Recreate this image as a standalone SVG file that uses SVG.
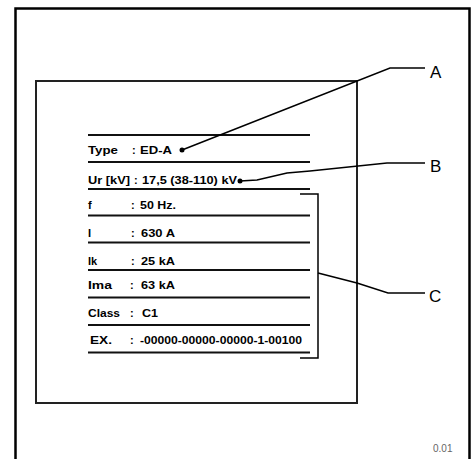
<svg xmlns="http://www.w3.org/2000/svg" width="471" height="459" viewBox="0 0 471 459">
<style>
.frame{fill:none;stroke:#000;stroke-width:2.5}
.box{fill:#fff;stroke:#222;stroke-width:2}
.rule{stroke:#111;stroke-width:2}
.t{font-family:"Liberation Sans",Arial,sans-serif;font-weight:bold;font-size:11px;fill:#000}
.lead{fill:none;stroke:#000;stroke-width:1.5}
.letter{font-family:"Liberation Sans",Arial,sans-serif;font-size:17px;fill:#000}
.ref{font-family:"Liberation Sans",Arial,sans-serif;font-size:10px;fill:#666}
</style>
<rect width="471" height="459" fill="#fff"/>
<g id="frame">
<path class="frame" d="M15.5,462 V8.5 H469.5 V462"/>
</g>
<g id="plate">
<rect class="box" x="36" y="81" width="321" height="322"/>
<g id="rules">
<line class="rule" x1="88" y1="135" x2="310" y2="135"/>
<line class="rule" x1="88" y1="162" x2="310" y2="162"/>
<line class="rule" x1="88" y1="189" x2="310" y2="189"/>
<line class="rule" x1="88" y1="215.5" x2="310" y2="215.5"/>
<line class="rule" x1="88" y1="242.5" x2="310" y2="242.5"/>
<line class="rule" x1="88" y1="270" x2="310" y2="270"/>
<line class="rule" x1="88" y1="297.5" x2="310" y2="297.5"/>
<line class="rule" x1="88" y1="325" x2="310" y2="325"/>
<line class="rule" x1="88" y1="352.5" x2="310" y2="352.5"/>
</g>
<g id="texts">
<text class="t" x="88" y="154" textLength="30" lengthAdjust="spacingAndGlyphs">Type</text>
<text class="t" x="132" y="154">:</text>
<text class="t" x="140" y="154" textLength="32" lengthAdjust="spacingAndGlyphs">ED-A</text>
<text class="t" x="88" y="184" textLength="42" lengthAdjust="spacingAndGlyphs">Ur [kV]</text>
<text class="t" x="134" y="184">:</text>
<text class="t" x="142" y="184" textLength="95" lengthAdjust="spacingAndGlyphs">17,5 (38-110) kV</text>
<text class="t" x="88" y="209">f</text>
<text class="t" x="131" y="209">:</text>
<text class="t" x="140" y="209" textLength="36" lengthAdjust="spacingAndGlyphs">50 Hz.</text>
<text class="t" x="88" y="237">I</text>
<text class="t" x="131" y="237">:</text>
<text class="t" x="141" y="237" textLength="34" lengthAdjust="spacingAndGlyphs">630 A</text>
<text class="t" x="88" y="265">Ik</text>
<text class="t" x="131" y="265">:</text>
<text class="t" x="141" y="265" textLength="34" lengthAdjust="spacingAndGlyphs">25 kA</text>
<text class="t" x="88" y="289" textLength="24" lengthAdjust="spacingAndGlyphs">Ima</text>
<text class="t" x="130" y="289">:</text>
<text class="t" x="141" y="289" textLength="34" lengthAdjust="spacingAndGlyphs">63 kA</text>
<text class="t" x="88" y="317" textLength="32" lengthAdjust="spacingAndGlyphs">Class</text>
<text class="t" x="130" y="317">:</text>
<text class="t" x="142" y="317" textLength="16" lengthAdjust="spacingAndGlyphs">C1</text>
<text class="t" x="90" y="344" textLength="22" lengthAdjust="spacingAndGlyphs">EX.</text>
<text class="t" x="130" y="344">:</text>
<text class="t" x="140" y="344" textLength="162" lengthAdjust="spacingAndGlyphs">-00000-00000-00000-1-00100</text>
</g>
<path class="lead" d="M300,194 H318 V358 H300"/>
</g>
<g id="connectors">
<circle cx="182" cy="150" r="2.5" fill="#000"/>
<polyline class="lead" points="182,150 390,68 425,68"/>
<circle cx="240" cy="181" r="2.5" fill="#000"/>
<polyline class="lead" points="240,181 257,180 287,173 310,171 387,163 425,163"/>
<polyline class="lead" points="318,273 357,283 388,293 425,293"/>
</g>
<g id="A"><text class="letter" x="430" y="78">A</text></g>
<g id="B"><text class="letter" x="430" y="172">B</text></g>
<g id="C"><text class="letter" x="429" y="302">C</text></g>
<g id="ref"><text class="ref" x="433" y="452">0.01</text></g>
</svg>
